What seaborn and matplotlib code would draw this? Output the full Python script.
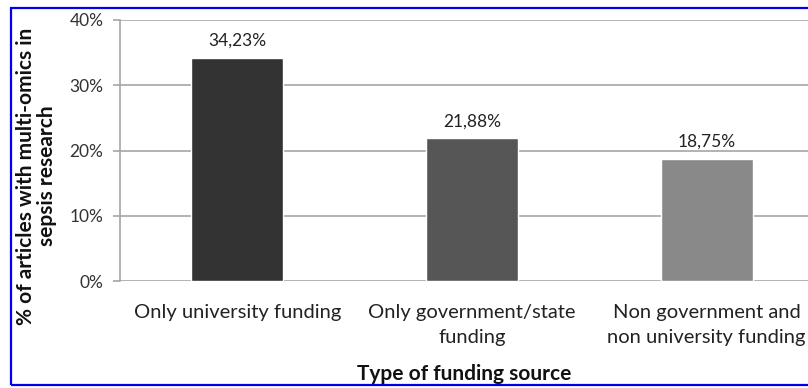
import matplotlib
matplotlib.use("Agg")
import matplotlib.pyplot as plt
import seaborn as sns
import pandas as pd
from matplotlib.patches import Rectangle

categories = ["Only university funding", "Only government/state\nfunding",
              "Non government and\nnon university funding"]
values = [34.23, 21.88, 18.75]
bar_colors = ["#333333", "#565656", "#898989"]
y_ticks = [0, 10, 20, 30, 40]
y_tick_labels = ["0%", "10%", "20%", "30%", "40%"]

sns.set_theme(style="white")
plt.rcParams['font.family'] = ['Lato', 'DejaVu Sans']

df = pd.DataFrame({"cat": categories, "val": values})

fig = plt.figure(figsize=(8.08, 3.88), dpi=100)
W, H = 808, 388
ax = fig.add_axes([120 / W, 1 - 281 / H, 688 / W, 261 / H])

sns.barplot(data=df, x="cat", y="val", hue="cat", palette=bar_colors,
            legend=False, width=0.393, ax=ax, saturation=1)

ax.set_ylim(0, 40)
ax.set_xlim(-0.5, 2.432)
ax.set_yticks(y_ticks)
ax.set_yticklabels(y_tick_labels, fontsize=12.5, color="#333333")
ax.yaxis.grid(True, color="#a6a6a6", linewidth=1.2)
ax.set_axisbelow(True)
for s in ["top", "right", "bottom"]:
    ax.spines[s].set_visible(False)
ax.spines["left"].set_color("#a6a6a6")
ax.spines["left"].set_linewidth(1.2)
ax.tick_params(axis="y", length=5, color="#a6a6a6", width=1.2, pad=7, left=True)
ax.tick_params(axis="x", length=0, pad=16.5, labelsize=14.5, labelcolor="#222222")
for lbl in ax.get_xticklabels():
    lbl.set_linespacing(1.6)

for i, v in enumerate(values):
    ax.text(i, v + 2.6, f"{v:.2f}%".replace(".", ","), ha="center", va="center",
            fontsize=12.5, color="#222222")

ax.set_xlabel("Type of funding source", fontsize=15, fontweight="bold",
              color="#111111", labelpad=13)
ax.set_ylabel("% of articles with multi-omics in\nsepsis research", fontsize=15,
              fontweight="bold", color="#111111", linespacing=1.05)
ax.yaxis.set_label_coords((36.5 - 120) / 688, (281 - 176) / 261)
ax.yaxis.label.set_verticalalignment("center")

fig.patches.append(Rectangle((11 / W, 1 - 385 / H), 820 / W, 377 / H,
                             transform=fig.transFigure, fill=False,
                             edgecolor="#0000ee", linewidth=1.6, zorder=10))

fig.savefig("out.png", dpi=100)
